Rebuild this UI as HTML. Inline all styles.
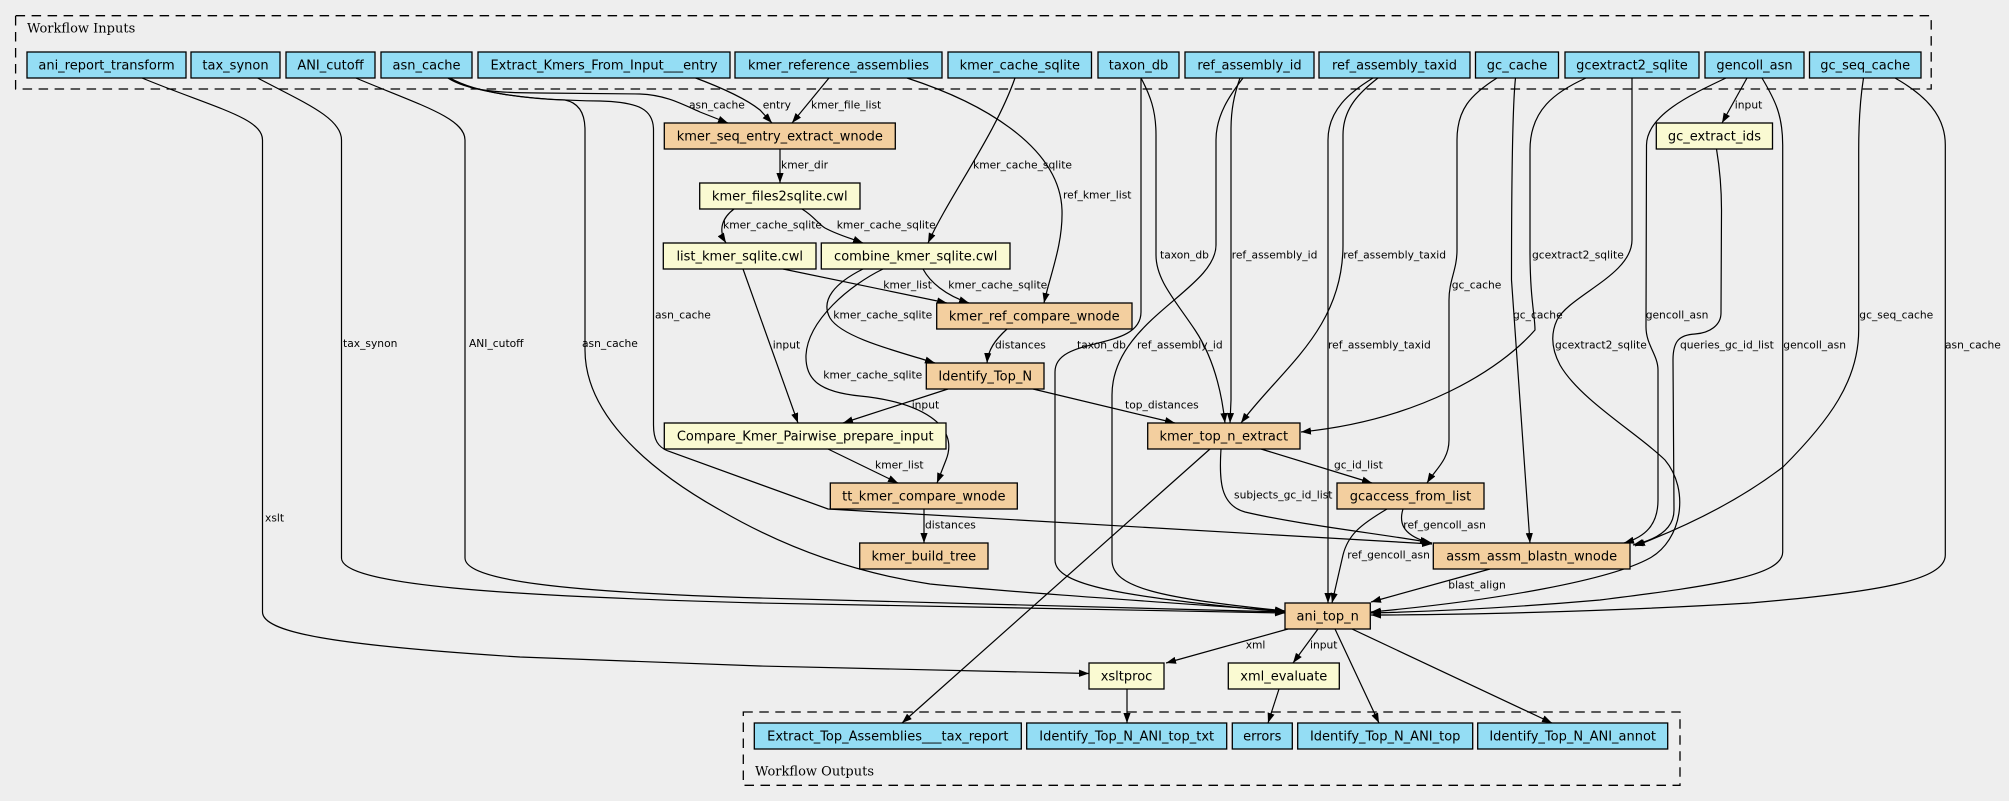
<!DOCTYPE html>
<html><head><meta charset="utf-8"><style>
html,body{margin:0;padding:0;background:#eeeeee;overflow:hidden}
svg{display:block}
.n{font-family:"DejaVu Sans","Liberation Sans",sans-serif;font-size:13px;fill:#000;text-anchor:middle}
.l{font-family:"DejaVu Sans","Liberation Sans",sans-serif;font-size:10.7px;fill:#000}
.c{font-family:"DejaVu Serif","Liberation Serif",serif;font-size:13px;fill:#000}
.b{fill:#94DDF4;stroke:#000;stroke-width:1.3}
.o{fill:#F3CF9F;stroke:#000;stroke-width:1.3}
.y{fill:#FAFAD2;stroke:#000;stroke-width:1.3}
.e{fill:none;stroke:#000;stroke-width:1.2}
.ea{fill:none;stroke:#000;stroke-width:1.2;marker-end:url(#ah)}
</style></head><body>
<svg width="2009" height="801" viewBox="0 0 2009 801" xmlns="http://www.w3.org/2000/svg">
<defs>
<marker id="ah" markerUnits="userSpaceOnUse" markerWidth="11" markerHeight="8" refX="10" refY="3.6" orient="auto">
<path d="M0,0 L10,3.6 L0,7.2 z" fill="#000"/>
</marker>
</defs>
<rect x="0" y="0" width="2009" height="801" fill="#eeeeee"/>

<!-- clusters -->
<rect x="15.6" y="15.7" width="1915.6" height="73.3" fill="none" stroke="#000" stroke-width="1.3" stroke-dasharray="9.5,6.5"/>
<text class="c" x="27" y="32.3">Workflow Inputs</text>
<rect x="743.3" y="712" width="936.7" height="73.3" fill="none" stroke="#000" stroke-width="1.3" stroke-dasharray="9.5,6.5"/>
<text class="c" x="755" y="775.3">Workflow Outputs</text>

<!-- edges -->
<path class="ea" d="M142,78 C215,108 262.5,118 262.5,140 L262.5,612 C262.5,632 330,645 520,657 L760,666 L1089,673.5"/>
<path class="ea" d="M257.6,78 C305,103 341.5,118 341.5,140 L341.5,558 C341.5,585 500,596 760,603 L1285,613"/>
<path class="ea" d="M355.8,78 C420,105 465,118 465,140 L465,558 C465,580 560,592 760,598 L1285,612"/>
<path class="ea" d="M448,78 C468,91 500,93 540,93 L640,94 C665,95 680,103 700,112 L728,123"/>
<path class="ea" d="M448,78 C470,92 530,99 565,100 C580,103 585,115 585,130 L585,350 C585,410 640,465 720,510 C780,545 850,572 930,584 C1000,591 1100,598 1285,611"/>
<path class="ea" d="M450,78 C475,92 520,100 600,101 C640,102 653.5,110 653.5,130 L653.5,425 C653.5,440 658,447 668,451 L828,509 L1432,544"/>
<path class="ea" d="M693,77 C720,87 745,98 760,110 L772,123"/>
<path class="ea" d="M829,78 L792,123"/>
<path class="ea" d="M907,78 C990,105 1060,150 1062,210 C1063,245 1050,275 1044,303"/>
<path class="ea" d="M1015,78 C995,135 950,195 928,243"/>
<path class="ea" d="M780,149 L780,183"/>
<path class="ea" d="M734,209 C722,218 718,230 726,243"/>
<path class="ea" d="M802,209 C815,217 818,224 825,228 C838,235 850,238 863,243"/>
<path class="ea" d="M783,269 L947,303"/>
<path class="ea" d="M743,269 L798,423"/>
<path class="ea" d="M923,269 C930,282 945,295 969,303"/>
<path class="ea" d="M863,269 C835,283 820,300 830,318 C842,338 900,352 935,363"/>
<path class="ea" d="M883,269 C850,285 808,320 806,355 C805,380 820,392 860,396 C920,402 960,425 946,460 L937,483"/>
<path class="ea" d="M1007,329 C995,340 988,350 987,363"/>
<path class="ea" d="M948,389 L843,423"/>
<path class="ea" d="M1033,389 L1175,423"/>
<path class="ea" d="M828,449 L898,483"/>
<path class="ea" d="M924,509 L924,543"/>
<!-- taxon_db -->
<path class="ea" d="M1141,78 C1150,95 1156,110 1156,135 L1156,255 C1156,280 1175,300 1195,330 C1215,360 1222,395 1225,423"/>
<path class="ea" d="M1141,78 L1141,312 C1141,352 1055,335 1055,372 L1055,560 C1055,585 1120,597 1285,612"/>
<!-- ref_assembly_id -->
<path class="ea" d="M1240,78 C1234,95 1231,110 1231,130 L1231,400 L1230,423"/>
<path class="ea" d="M1243,78 C1230,95 1216,115 1216,140 L1216,245 C1216,290 1112,320 1112,395 L1112,560 C1112,588 1160,598 1285,611"/>
<!-- ref_assembly_taxid -->
<path class="ea" d="M1378,78 C1360,92 1343,108 1343,135 L1343,245 C1343,330 1280,370 1241,423"/>
<path class="ea" d="M1373,78 C1350,92 1328,110 1328,140 L1328,603"/>
<!-- gc_cache -->
<path class="ea" d="M1497,78 C1470,95 1457,110 1457,140 L1457,250 C1457,270 1449,280 1449,300 L1449,440 C1449,460 1435,470 1427,483"/>
<path class="ea" d="M1515.5,78 C1512,110 1511.5,200 1511.5,280 L1530,543"/>
<!-- gcextract2_sqlite -->
<path class="ea" d="M1586,78 C1555,92 1530,110 1530,150 L1530,250 C1530,300 1535,315 1535,330 C1500,370 1420,420 1301,432"/>
<path class="ea" d="M1632,78 L1632,240 C1632,275 1570,295 1557,320 C1550,335 1552,350 1560,365 C1580,400 1640,435 1665,460 C1690,490 1682,540 1650,558 C1610,580 1500,600 1371,612"/>
<!-- gencoll_asn -->
<path class="ea" d="M1747,78 L1722,123"/>
<path class="ea" d="M1726,78 C1690,95 1647,115 1646.5,145 L1646,327 C1646,345 1658,355 1658,370 L1658,500 C1658,525 1645,537 1624,543"/>
<path class="ea" d="M1762,78 C1775,100 1782.7,115 1782.7,145 L1782.7,552 C1782.7,575 1720,585 1600,600 C1520,607 1450,611 1371,613"/>
<!-- gc_extract_ids -->
<path class="ea" d="M1716.5,149 C1720,170 1721.5,190 1721.5,210 L1721,313 C1721,325 1710,333 1695,334 C1680,335 1673,340 1673,360 L1674,510 C1674,530 1655,540 1633,545"/>
<!-- gc_seq_cache -->
<path class="ea" d="M1863.5,78 C1860,100 1858.7,120 1858.7,150 L1858.7,330 C1858.7,380 1830,420 1783,467 C1740,500 1690,525 1635,546"/>
<path class="ea" d="M1895,78 C1925,95 1945.3,115 1945.3,145 L1945.3,555 C1945.3,580 1880,592 1750,603 C1600,612 1450,615 1371,615"/>
<!-- kmer_top_n_extract -->
<path class="ea" d="M1261,449 L1372,483"/>
<path class="ea" d="M1221,449 C1219,480 1220,505 1245,512 C1300,525 1390,535 1432,543"/>
<path class="ea" d="M1210,449 L902,723"/>
<!-- gcaccess -->
<path class="ea" d="M1403,509 C1398,525 1405,536 1430,543"/>
<path class="ea" d="M1387,509 C1360,525 1348,535 1343,555 L1332,603"/>
<path class="ea" d="M1490,569 L1371,602"/>
<!-- ani_top_n outputs -->
<path class="ea" d="M1288,629 L1166,663"/>
<path class="ea" d="M1318,629 L1293,663"/>
<path class="ea" d="M1335,629 L1379,723"/>
<path class="ea" d="M1352,629 L1552,723"/>
<path class="ea" d="M1127,689 L1127,723"/>
<path class="ea" d="M1279,689 L1268,723"/>

<!-- input nodes -->
<rect class="b" x="27" y="52" width="159" height="26"/><text class="n" x="106.5" y="69.5">ani_report_transform</text>
<rect class="b" x="191" y="52" width="89" height="26"/><text class="n" x="235.5" y="69.5">tax_synon</text>
<rect class="b" x="286" y="52" width="89" height="26"/><text class="n" x="330.5" y="69.5">ANI_cutoff</text>
<rect class="b" x="381" y="52" width="91" height="26"/><text class="n" x="426.5" y="69.5">asn_cache</text>
<rect class="b" x="478" y="52" width="252" height="26"/><text class="n" x="604" y="69.5">Extract_Kmers_From_Input___entry</text>
<rect class="b" x="735" y="52" width="207" height="26"/><text class="n" x="838.5" y="69.5">kmer_reference_assemblies</text>
<rect class="b" x="948" y="52" width="143.5" height="26"/><text class="n" x="1019.8" y="69.5">kmer_cache_sqlite</text>
<rect class="b" x="1098" y="52" width="81" height="26"/><text class="n" x="1138.5" y="69.5">taxon_db</text>
<rect class="b" x="1185" y="52" width="129" height="26"/><text class="n" x="1249.5" y="69.5">ref_assembly_id</text>
<rect class="b" x="1319" y="52" width="151" height="26"/><text class="n" x="1394.5" y="69.5">ref_assembly_taxid</text>
<rect class="b" x="1475.5" y="52" width="83" height="26"/><text class="n" x="1517" y="69.5">gc_cache</text>
<rect class="b" x="1565" y="52" width="134" height="26"/><text class="n" x="1632" y="69.5">gcextract2_sqlite</text>
<rect class="b" x="1705" y="52" width="99" height="26"/><text class="n" x="1754.5" y="69.5">gencoll_asn</text>
<rect class="b" x="1809.5" y="52" width="111.5" height="26"/><text class="n" x="1865.2" y="69.5">gc_seq_cache</text>

<!-- step nodes -->
<rect class="o" x="664.3" y="123" width="231" height="26"/><text class="n" x="779.8" y="140.5">kmer_seq_entry_extract_wnode</text>
<rect class="y" x="1656.3" y="123" width="116.2" height="26"/><text class="n" x="1714.4" y="140.5">gc_extract_ids</text>
<rect class="y" x="699.7" y="183" width="160.3" height="26"/><text class="n" x="779.8" y="200.5">kmer_files2sqlite.cwl</text>
<rect class="y" x="663.3" y="243" width="152.7" height="26"/><text class="n" x="739.7" y="260.5">list_kmer_sqlite.cwl</text>
<rect class="y" x="821.3" y="243" width="188.7" height="26"/><text class="n" x="915.7" y="260.5">combine_kmer_sqlite.cwl</text>
<rect class="o" x="936.7" y="303" width="195.3" height="26"/><text class="n" x="1034.3" y="320.5">kmer_ref_compare_wnode</text>
<rect class="o" x="926.3" y="363" width="117.7" height="26"/><text class="n" x="985.2" y="380.5">Identify_Top_N</text>
<rect class="y" x="664.3" y="423" width="281.7" height="26"/><text class="n" x="805.2" y="440.5">Compare_Kmer_Pairwise_prepare_input</text>
<rect class="o" x="1147.7" y="423" width="152.3" height="26"/><text class="n" x="1223.8" y="440.5">kmer_top_n_extract</text>
<rect class="o" x="830.3" y="483" width="187" height="26"/><text class="n" x="923.8" y="500.5">tt_kmer_compare_wnode</text>
<rect class="o" x="1337" y="483" width="147" height="26"/><text class="n" x="1410.5" y="500.5">gcaccess_from_list</text>
<rect class="o" x="859.7" y="543" width="128.3" height="26"/><text class="n" x="923.8" y="560.5">kmer_build_tree</text>
<rect class="o" x="1433.3" y="543" width="196.7" height="26"/><text class="n" x="1531.7" y="560.5">assm_assm_blastn_wnode</text>
<rect class="o" x="1285" y="603" width="85.3" height="26"/><text class="n" x="1327.7" y="620.5">ani_top_n</text>
<rect class="y" x="1089" y="663" width="75" height="26"/><text class="n" x="1126.5" y="680.5">xsltproc</text>
<rect class="y" x="1228.3" y="663" width="111" height="26"/><text class="n" x="1283.8" y="680.5">xml_evaluate</text>

<!-- output nodes -->
<rect class="b" x="754.3" y="723" width="267" height="26"/><text class="n" x="887.8" y="740.5">Extract_Top_Assemblies___tax_report</text>
<rect class="b" x="1026.7" y="723" width="200" height="26"/><text class="n" x="1126.7" y="740.5">Identify_Top_N_ANI_top_txt</text>
<rect class="b" x="1232.3" y="723" width="60" height="26"/><text class="n" x="1262.3" y="740.5">errors</text>
<rect class="b" x="1297.7" y="723" width="175" height="26"/><text class="n" x="1385.2" y="740.5">Identify_Top_N_ANI_top</text>
<rect class="b" x="1477.7" y="723" width="190" height="26"/><text class="n" x="1572.7" y="740.5">Identify_Top_N_ANI_annot</text>

<!-- edge labels -->
<text class="l" x="265" y="521.5">xslt</text>
<text class="l" x="343" y="347">tax_synon</text>
<text class="l" x="469" y="347">ANI_cutoff</text>
<text class="l" x="582" y="347">asn_cache</text>
<text class="l" x="655" y="318.5">asn_cache</text>
<text class="l" x="689" y="108.5">asn_cache</text>
<text class="l" x="762.7" y="108.5">entry</text>
<text class="l" x="811" y="108.5">kmer_file_list</text>
<text class="l" x="781" y="168.5">kmer_dir</text>
<text class="l" x="973" y="168.5">kmer_cache_sqlite</text>
<text class="l" x="1063" y="198.5">ref_kmer_list</text>
<text class="l" x="723" y="228.5">kmer_cache_sqlite</text>
<text class="l" x="836.7" y="228.5">kmer_cache_sqlite</text>
<text class="l" x="883.3" y="288.5">kmer_list</text>
<text class="l" x="948.3" y="288.5">kmer_cache_sqlite</text>
<text class="l" x="833.3" y="318.5">kmer_cache_sqlite</text>
<text class="l" x="772.7" y="348.5">input</text>
<text class="l" x="995" y="348.5">distances</text>
<text class="l" x="1077" y="348.5">taxon_db</text>
<text class="l" x="1137" y="348.5">ref_assembly_id</text>
<text class="l" x="1328" y="348.5">ref_assembly_taxid</text>
<text class="l" x="1555" y="348.5">gcextract2_sqlite</text>
<text class="l" x="1680" y="348.5">queries_gc_id_list</text>
<text class="l" x="1783.3" y="348.5">gencoll_asn</text>
<text class="l" x="1945" y="348.5">asn_cache</text>
<text class="l" x="1160" y="258.5">taxon_db</text>
<text class="l" x="1231.7" y="258.5">ref_assembly_id</text>
<text class="l" x="1343.3" y="258.5">ref_assembly_taxid</text>
<text class="l" x="1532" y="258.5">gcextract2_sqlite</text>
<text class="l" x="1451.7" y="288.5">gc_cache</text>
<text class="l" x="1513" y="318.5">gc_cache</text>
<text class="l" x="1645.7" y="318.5">gencoll_asn</text>
<text class="l" x="1859.3" y="318.5">gc_seq_cache</text>
<text class="l" x="1734.8" y="108.5">input</text>
<text class="l" x="823.3" y="378.5">kmer_cache_sqlite</text>
<text class="l" x="911.7" y="408.5">input</text>
<text class="l" x="1125" y="408.5">top_distances</text>
<text class="l" x="875" y="468.5">kmer_list</text>
<text class="l" x="1334" y="468.5">gc_id_list</text>
<text class="l" x="1234" y="498.5">subjects_gc_id_list</text>
<text class="l" x="925" y="528.5">distances</text>
<text class="l" x="1403.3" y="528.5">ref_gencoll_asn</text>
<text class="l" x="1347.3" y="558.5">ref_gencoll_asn</text>
<text class="l" x="1448.3" y="588.5">blast_align</text>
<text class="l" x="1245.7" y="648.5">xml</text>
<text class="l" x="1310" y="648.5">input</text>
</svg>
</body></html>
